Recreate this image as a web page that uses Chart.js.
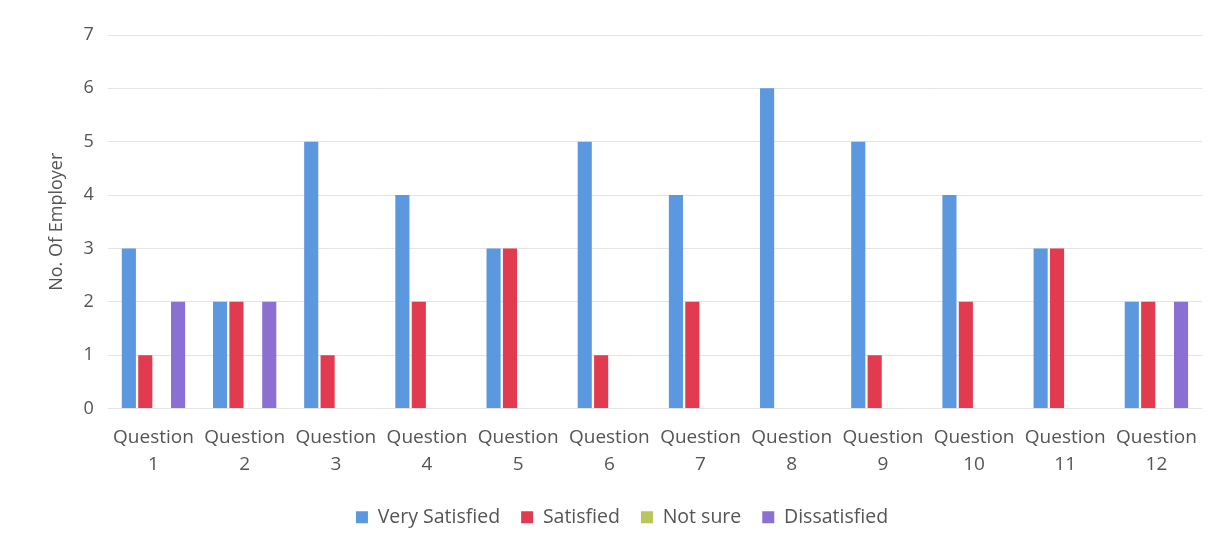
<!DOCTYPE html>
<html><head><meta charset="utf-8">
<script src="https://cdn.jsdelivr.net/npm/chart.js@4/dist/chart.umd.min.js"></script>
<style>html,body{margin:0;padding:0;background:#fff}#wrap{width:1226px;height:548px}</style>
</head><body><div id="wrap"><canvas id="c" width="1226" height="548"></canvas></div>
<script>
const categories = ["Question 1","Question 2","Question 3","Question 4","Question 5","Question 6","Question 7","Question 8","Question 9","Question 10","Question 11","Question 12"];
const verySatisfied = [3,2,5,4,3,5,4,6,5,4,3,2];
const satisfied = [1,2,1,2,3,1,2,0,1,2,3,2];
const notSure = [0,0,0,0,0,0,0,0,0,0,0,0];
const dissatisfied = [2,2,0,0,0,0,0,0,0,0,0,2];
const yTicks = [0,1,2,3,4,5,6,7];

const font = "'Open Sans', sans-serif";
new Chart(document.getElementById('c'), {
  type: 'bar',
  data: {
    labels: categories.map(c => c.split(' ')),
    datasets: [
      {label: 'Very Satisfied', data: verySatisfied, backgroundColor: '#5b98e0'},
      {label: 'Satisfied', data: satisfied, backgroundColor: '#e23a4e'},
      {label: 'Not sure', data: notSure, backgroundColor: '#b8c65a'},
      {label: 'Dissatisfied', data: dissatisfied, backgroundColor: '#8c6fd3'}
    ]
  },
  options: {
    responsive: false,
    animation: false,
    layout: {padding: {left: 42, right: 24, top: 35, bottom: 11}},
    datasets: {bar: {categoryPercentage: 0.72, barPercentage: 0.86}},
    plugins: {
      legend: {
        position: 'bottom',
        labels: {boxWidth: 12, boxHeight: 12, padding: 21, color: '#555', font: {family: font, size: 19.5}}
      },
      tooltip: {enabled: false}
    },
    scales: {
      x: {
        grid: {display: false},
        border: {display: false},
        ticks: {color: '#555', font: {family: font, size: 19, lineHeight: 1.42}, maxRotation: 0, autoSkip: false, padding: 8}
      },
      y: {
        min: 0, max: 7,
        afterBuildTicks: s => { s.ticks = yTicks.map(v => ({value: v})); },
        grid: {color: '#e4e4e4', drawTicks: false},
        border: {display: false},
        ticks: {color: '#555', font: {family: font, size: 18}, padding: 14},
        title: {display: true, text: 'No. Of Employer', color: '#555', font: {family: font, size: 18}, padding: {bottom: 2}}
      }
    }
  }
});
</script></body></html>
